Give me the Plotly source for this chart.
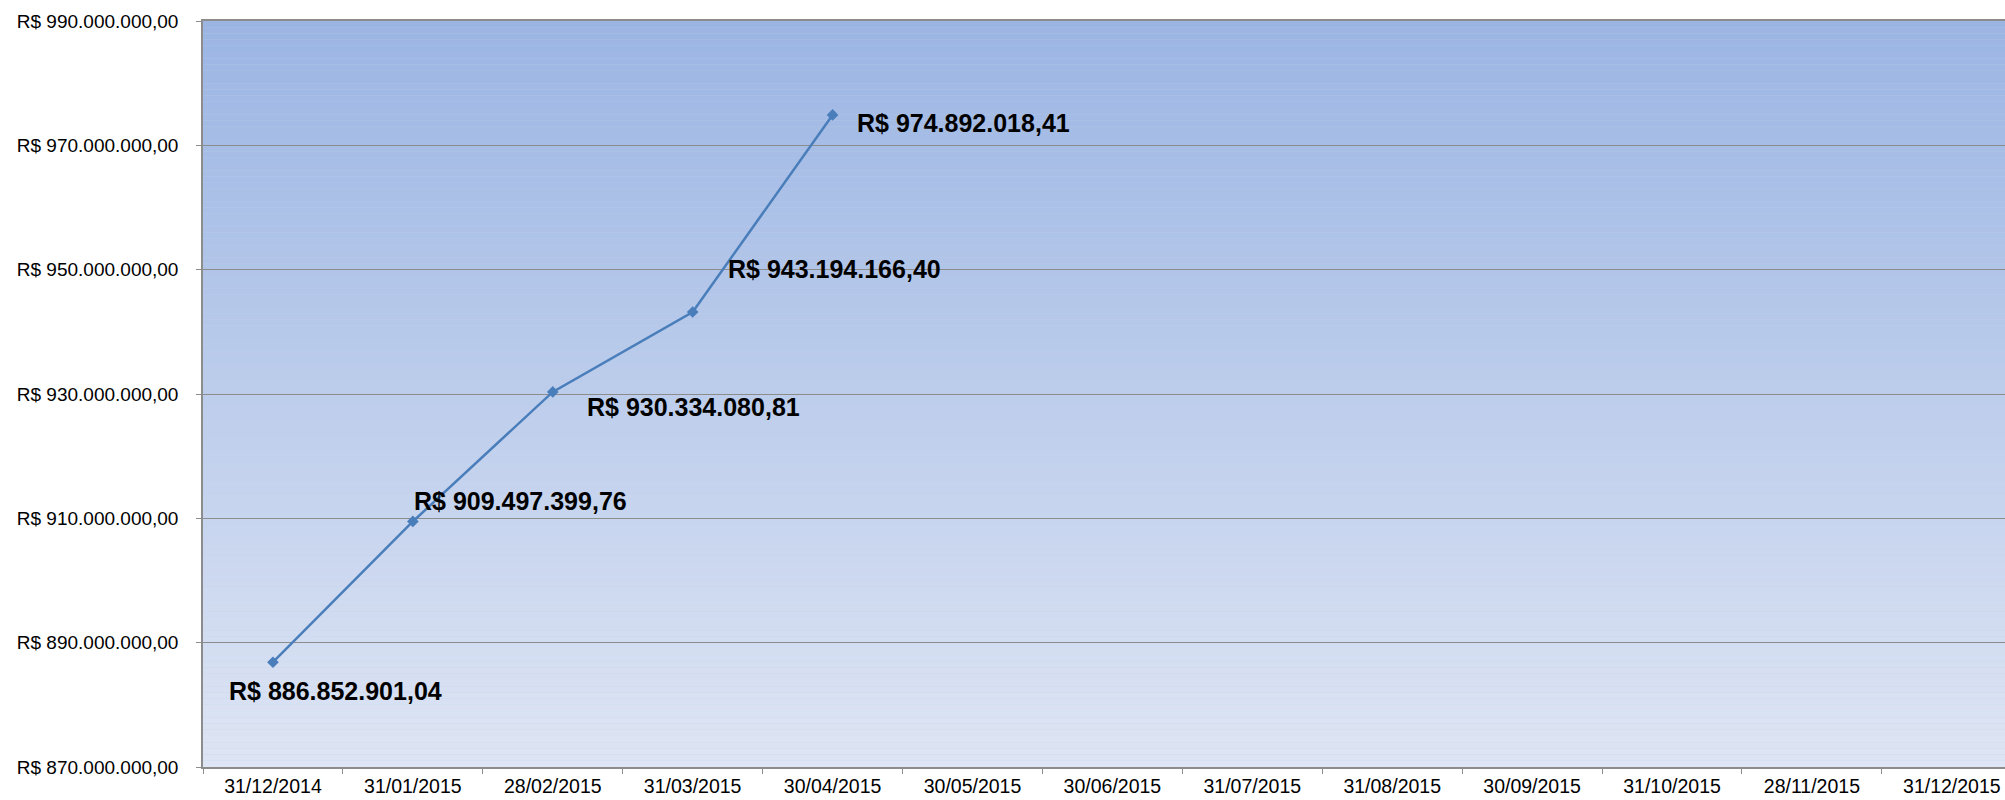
import plotly.graph_objects as go

dates = ['31/12/2014', '31/01/2015', '28/02/2015', '31/03/2015', '30/04/2015',
         '30/05/2015', '30/06/2015', '31/07/2015', '31/08/2015', '30/09/2015',
         '31/10/2015', '28/11/2015', '31/12/2015']
values = [886852901.04, 909497399.76, 930334080.81, 943194166.40, 974892018.41]

# label offsets (px) relative to each point, as in the original
label_dx = [-46, -1, 32, 33, 22]
label_dy = [-29, 20, -15, 43, -8]


def brl(v):
    s = '{:,.2f}'.format(v)
    return 'R$ ' + s.replace(',', '#').replace('.', ',').replace('#', '.')


def gradient_shapes(top, bottom, steps=120):
    shapes = []
    for i in range(steps):
        t = i / (steps - 1)
        c = [round(top[k] + (bottom[k] - top[k]) * t) for k in range(3)]
        shapes.append(dict(type='rect', xref='x domain', yref='y domain',
                           x0=0, x1=1, y0=1 - (i + 1) / steps, y1=1 - i / steps,
                           fillcolor='rgb(%d,%d,%d)' % tuple(c),
                           line=dict(width=0), layer='below'))
    return shapes


fig = go.Figure()

fig.add_trace(go.Scatter(x=dates[:len(values)], y=values,
                         mode='lines+markers',
                         line=dict(color='#4a7ebb', width=2.5),
                         marker=dict(symbol='diamond', size=9, color='#4a7ebb'),
                         showlegend=False, hoverinfo='skip'))

for i, v in enumerate(values):
    fig.add_annotation(x=dates[i], y=v, text='<b>' + brl(v) + '</b>',
                       showarrow=False, xanchor='left', yanchor='middle',
                       xshift=label_dx[i], yshift=label_dy[i],
                       font=dict(size=25, color='black',
                                 family='Liberation Sans, Arial, sans-serif'))

fig.update_layout(
    width=2005, height=800,
    margin=dict(l=203, r=0, t=21, b=33),
    paper_bgcolor='white', plot_bgcolor='#c0cfeb',
    separators=',.',
    font=dict(family='Liberation Sans, Arial, sans-serif', color='black'),
    shapes=gradient_shapes((155, 181, 227), (222, 229, 244)),
)

fig.update_xaxes(type='category', categoryorder='array', categoryarray=dates,
                 tickvals=dates, range=[-0.5, 12.38], automargin=False,
                 showgrid=False, showline=True, linecolor='#8c8c8c', linewidth=1.5,
                 mirror=True, ticks='outside', tickson='boundaries',
                 ticklen=5, tickcolor='#8c8c8c', tickfont=dict(size=19.5),
                 ticklabelstandoff=1)

fig.update_yaxes(range=[870000000, 990000000], tick0=870000000, dtick=20000000,
                 tickformat=',.2f', tickprefix='R$ ', automargin=False,
                 showgrid=True, gridcolor='#8c8c8c', gridwidth=1,
                 showline=True, linecolor='#8c8c8c', linewidth=1.5,
                 ticks='outside', ticklen=5, tickcolor='#8c8c8c',
                 tickfont=dict(size=19), zeroline=False,
                 ticklabelstandoff=14)

# no page margin, so the 2005x800 figure fills the window exactly
fig.write_html('out.html', config={'displayModeBar': False},
               post_script="document.body.style.margin='0';")
